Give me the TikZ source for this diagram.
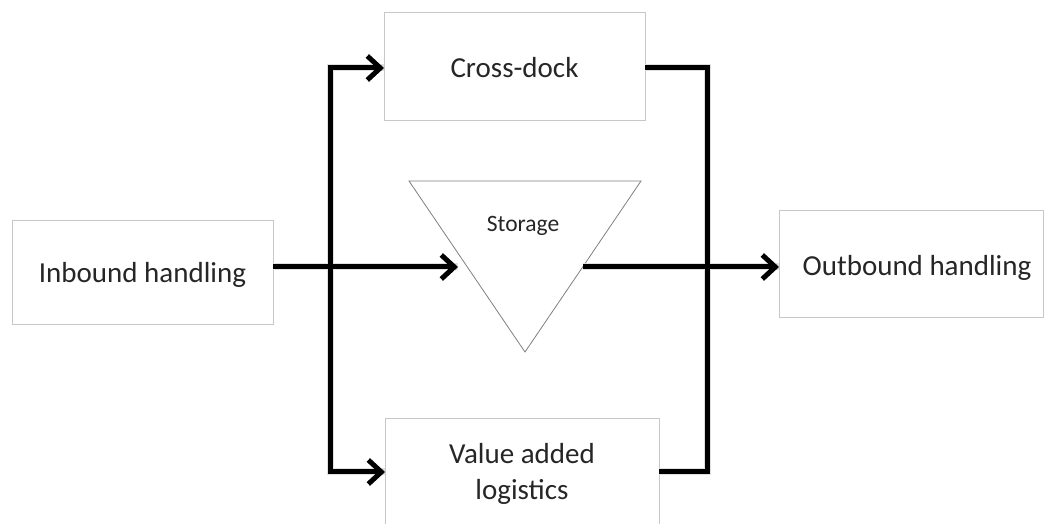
\documentclass[tikz,border=0pt]{standalone}
\usepackage{fontspec}
\setmainfont{Carlito}
\usetikzlibrary{arrows.meta}
\begin{document}
\begin{tikzpicture}[x=1pt,y=1pt,
  box/.style={draw=black!22, line width=1pt, fill=white},
  lbl/.style={font=\fontsize{29}{36}\selectfont, text=black!85, align=center},
  flow/.style={line width=5pt, line join=miter},
  tip/.style={-{Straight Barb[length=13pt,width=24pt,line width=5pt]}},
  shade/.style={line width=7pt, draw=black!12, line join=miter}
]
\useasboundingbox (0,0) rectangle (1047,524);
\clip (0,0) rectangle (1047,524);
\fill[white] (0,0) rectangle (1047,524);
% boxes
\draw[box] (12,199) rectangle (273,303);
\node[lbl] (inb) at (142.5,249) {Inbound handling};
\draw[box] (384,403) rectangle (645,511);
\node[lbl] (cross) at (514.5,456) {Cross-dock};
\draw[box] (779,206) rectangle (1043,313);
\node[lbl] (outb) at (917,256) {Outbound handling};
\draw[box] (385,-10) rectangle (659,105);
\node[lbl] (val) at (522,50) {Value added\\logistics};
% storage triangle
\draw[draw=black!50, line width=0.8pt, fill=white] (409,343) -- (641,343) -- (525,172) -- cycle;
\node[font=\fontsize{23.5}{28}\selectfont, text=black!85] (stor) at (523,298) {Storage};
% connector points
\coordinate (inbR) at (273,257);
\coordinate (storL) at (458,257);
\coordinate (storR) at (583,257);
\coordinate (outbL) at (779,257);
\coordinate (lt) at (330,456);
\coordinate (lb) at (330,52);
\coordinate (crossL) at (384,456);
\coordinate (valL) at (385,52);
\coordinate (crossR) at (645,456);
\coordinate (valR) at (659,52);
\coordinate (rt) at (707,456);
\coordinate (rb) at (707,52);
% soft shadows
\begin{scope}[yshift=-2pt, xshift=1pt]
\draw[shade] (crossL) -- (lt) -- (lb) -- (valL);
\draw[shade] (crossR) -- (rt) -- (rb) -- (valR);
\draw[shade] (inbR) -- (storL);
\draw[shade] (storR) -- (outbL);
\end{scope}
% connectors
\draw[flow, tip] (lb) -- (lt) -- (crossL);
\draw[flow, tip] (lt) -- (lb) -- (valL);
\draw[flow] (crossR) -- (rt) -- (rb) -- (valR);
\draw[flow, tip] (inbR) -- (storL);
\draw[flow, tip] (storR) -- (outbL);
\end{tikzpicture}
\end{document}
